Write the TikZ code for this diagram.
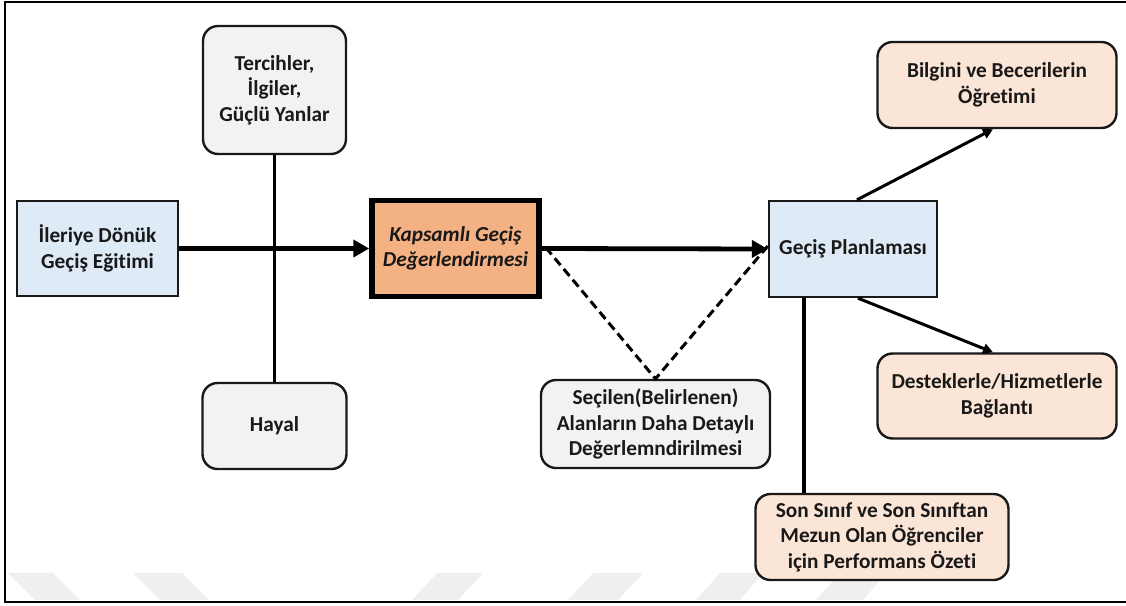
\documentclass[tikz,border=0pt]{standalone}
\usepackage{fontspec}
\setmainfont{Carlito}[Ligatures=NoCommon]
\usetikzlibrary{arrows.meta}
\definecolor{lblue}{HTML}{DEEBF7}
\definecolor{lgray}{HTML}{F2F2F2}
\definecolor{orng}{HTML}{F4B183}
\definecolor{lorng}{HTML}{FBE5D6}
\definecolor{wmark}{HTML}{EFEFEF}
\begin{document}
\begin{tikzpicture}[x=1pt,y=-1pt,
  box/.style={draw=black!90, line width=2.4pt, align=center, inner sep=0pt,
    font=\fontsize{21.3}{25.5}\selectfont\bfseries, text=black!90},
  rbox/.style={box, rounded corners=15pt},
  bigarrow/.style={line width=4.8pt, -{Triangle[length=16pt,width=17pt]}},
  thinarrow/.style={line width=3pt, -{Triangle[length=10pt,width=10pt]}},
  joinline/.style={line width=3.3pt},
  dashline/.style={line width=3pt, dash pattern=on 9pt off 5pt},
  wm/.style={fill=wmark, draw=none}]
\useasboundingbox (0,0) rectangle (1126,605);
% faint watermark chevrons
\fill[wm] (8,573) -- (53,573) -- (80,600) -- (35,600) -- cycle;
\fill[wm] (133,573) -- (182,573) -- (209,600) -- (160,600) -- cycle;
\fill[wm] (437,573) -- (483,573) -- (458,600) -- (412,600) -- cycle;
\fill[wm] (593,573) -- (643,573) -- (618,600) -- (568,600) -- cycle;
\fill[wm] (720,573) -- (763,573) -- (740,600) -- (696,600) -- cycle;
\fill[wm] (840,573) -- (886,573) -- (863,600) -- (816,600) -- cycle;
\draw[line width=2.5pt] (1135,2) -- (5,2) -- (5,602) -- (1135,602);

\node[box, fill=lblue, minimum width=161pt, minimum height=95pt] (ileri) at (97.5,248.5) {İleriye Dönük\\Geçiş Eğitimi};
\node[rbox, fill=lgray, minimum width=143pt, minimum height=128pt] (terc) at (274.5,90) {Tercihler,\\İlgiler,\\Güçlü Yanlar};
\node[rbox, fill=lgray, minimum width=144pt, minimum height=86pt] (hayal) at (274.5,426) {Hayal};
\node[box, fill=orng, line width=5.5pt, draw=black, minimum width=167pt, minimum height=96pt, font=\fontsize{21.3}{25.5}\selectfont\bfseries\itshape] (kaps) at (455.5,248.5) {Kapsamlı Geçiş\\Değerlendirmesi};
\node[rbox, fill=lgray, minimum width=229pt, minimum height=88pt] (secil) at (655.5,424) {Seçilen(Belirlenen)\\Alanların Daha Detaylı\\Değerlemndirilmesi};
\node[box, fill=lblue, minimum width=168pt, minimum height=96pt] (gecis) at (853,249) {Geçiş Planlaması};
\node[rbox, fill=lorng, minimum width=239pt, minimum height=86pt] (bilgi) at (997,85) {Bilgini ve Becerilerin\\Öğretimi};
\node[rbox, fill=lorng, minimum width=239pt, minimum height=85pt] (destek) at (997,396) {Desteklerle/Hizmetlerle\\Bağlantı};
\node[rbox, fill=lorng, minimum width=253pt, minimum height=86pt] (son) at (882,537) {Son Sınıf ve Son Sınıftan\\Mezun Olan Öğrenciler\\için Performans Özeti};

\coordinate (gs) at ([xshift=-49pt]gecis.south);
\draw[joinline] (terc.south) -- (hayal.north);
\draw[bigarrow] (ileri.east) -- (kaps.west);
\draw[bigarrow] (kaps.east) -- (gecis.west);
\draw[dashline] ([xshift=4pt,yshift=1pt]kaps.east) -- (secil.north) -- ([yshift=3pt]gecis.west);
\draw[thinarrow] ([xshift=4pt]gecis.north) -- ([xshift=-4pt]bilgi.south);
\draw[thinarrow] ([xshift=5pt]gecis.south) -- ([xshift=-4pt]destek.north);
\draw[joinline] (gs) -- (gs |- son.north);
\end{tikzpicture}
\end{document}
